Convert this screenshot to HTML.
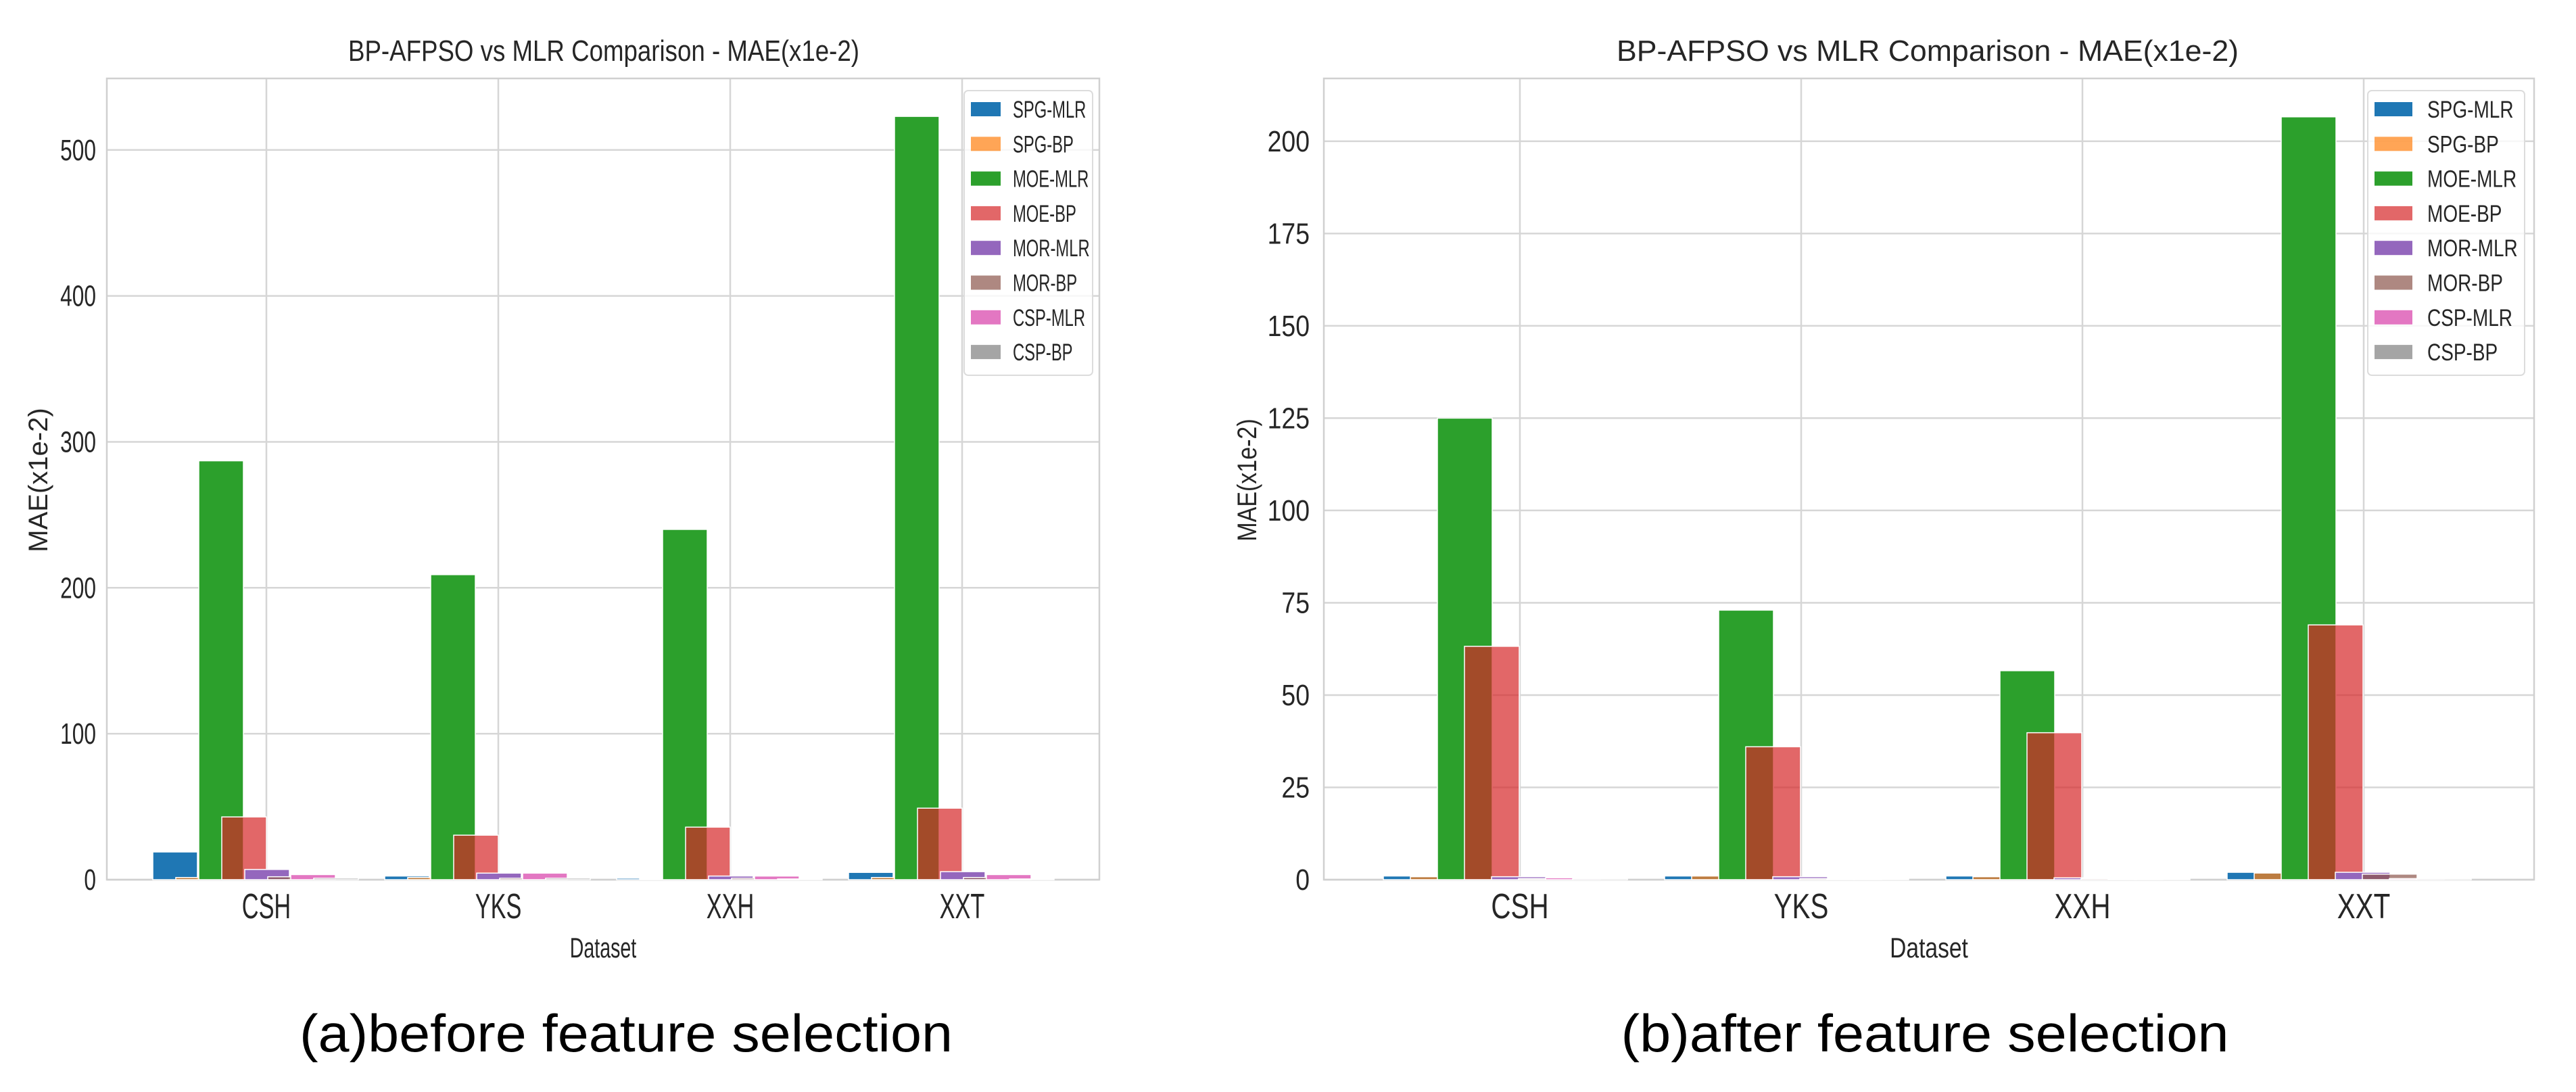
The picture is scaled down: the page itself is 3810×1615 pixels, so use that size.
<!DOCTYPE html>
<html><head><meta charset="utf-8"><style>
html,body{margin:0;padding:0;background:#fff;}
svg{display:block;}
text{font-family:"Liberation Sans",sans-serif;fill:#262626;}
</style></head><body>
<svg id="fig" width="3810" height="1615" viewBox="0 0 3810 1615" xmlns="http://www.w3.org/2000/svg">
<text x="926" y="1555" font-size="78" text-anchor="middle" textLength="966" lengthAdjust="spacingAndGlyphs" style="fill:#000">(a)before feature selection</text>
<text x="2847" y="1555" font-size="78" text-anchor="middle" textLength="899" lengthAdjust="spacingAndGlyphs" style="fill:#000">(b)after feature selection</text>
</svg>
<script>
const categories = ["CSH","YKS","XXH","XXT"];
const seriesNames = ["SPG-MLR","SPG-BP","MOE-MLR","MOE-BP","MOR-MLR","MOR-BP","CSP-MLR","CSP-BP"];
const seriesColors = ["#1f77b4","#ff7f0e","#2ca02c","#d62728","#9467bd","#8c564b","#e377c2","#7f7f7f"];
// before feature selection
const beforeSPGMLR = [19, 2.5, 1, 5];
const beforeSPGBP = [1.5, 1.5, 0.5, 1.5];
const beforeMOEMLR = [287, 209, 240, 523];
const beforeMOEBP = [43, 30.5, 36, 49];
const beforeMORMLR = [7, 4.5, 2.5, 5.5];
const beforeMORBP = [2, 1, 1, 1.5];
const beforeCSPMLR = [3.5, 4.5, 2.5, 3.5];
const beforeCSPBP = [1, 1, 0.5, 0.5];
// after feature selection
const afterSPGMLR = [1, 1, 1, 2];
const afterSPGBP = [0.8, 1, 0.8, 1.8];
const afterMOEMLR = [125, 73, 56.6, 206.6];
const afterMOEBP = [63.2, 36, 39.8, 69];
const afterMORMLR = [0.8, 0.8, 0.5, 2];
const afterMORBP = [0.3, 0.3, 0.3, 1.5];
const afterCSPMLR = [0.5, 0.2, 0.2, 0.3];
const afterCSPBP = [0.3, 0.2, 0.2, 0.3];
const beforeTicks = [0, 100, 200, 300, 400, 500];
const afterTicks = [0, 25, 50, 75, 100, 125, 150, 175, 200];

const NS = "http://www.w3.org/2000/svg";
const fig = document.getElementById('fig');
function mk(tag, attrs, parent){ const e=document.createElementNS(NS,tag); for(const k in attrs) e.setAttribute(k,attrs[k]); (parent||fig).appendChild(e); return e; }
function txt(parent, x, y, s, size, anchor, sx, rot){
  const t = mk('text',{ 'font-size':size, 'text-anchor':anchor,
    transform:'translate('+x+','+y+')'+(rot?' rotate('+rot+')':'')+' scale('+sx+',1)'}, parent);
  t.textContent = s; return t;
}

function drawChart(cfg){
  const g = mk('g',{});
  
  
  const L=cfg.left, R=cfg.right, T=116, B=1301, maxV=cfg.maxV;
  const yS = v => B - v/maxV*(B-T);
  const xS = i => cfg.firstTick + i*cfg.spacing;
  cfg.ticks.forEach(t=>{
    const ln = mk('line',{x1:L,x2:R,y1:yS(t),y2:yS(t),stroke:'#d6d6d6','stroke-width':2.5},g);
    
    
    const lb = txt(g, cfg.tickRight, yS(t)+15, String(t), 44, 'end', cfg.tsx);
    
    
  });
  categories.forEach((c,i)=>{
    const ln = mk('line',{x1:xS(i),x2:xS(i),y1:T,y2:B,stroke:'#d6d6d6','stroke-width':2.5},g);
    
    
    const lb = txt(g, xS(i), 1358, c, 52, 'middle', cfg.sx*0.97);
    
    
  });
  const frame = mk('rect',{x:L,y:T,width:R-L,height:B-T,fill:'none',stroke:'#d0d0d0','stroke-width':2.5},g);
  
  
  cfg.series.forEach((vals,s)=>{
    const isBP = s%2===1;
    vals.forEach((v,i)=>{
      const x = xS(i) + cfg.barOff + (s-3)*cfg.step;
      const r = mk('rect',{x:x,y:yS(v),width:cfg.barW,height:B-yS(v),fill:seriesColors[s],
        'fill-opacity':isBP?0.7:1,stroke:'#fff','stroke-width':1.5},g);
      
      
    });
  });
  const ti = mk('text',{x:cfg.titleX,y:90,'font-size':44,'text-anchor':'middle',textLength:cfg.titleW,lengthAdjust:'spacingAndGlyphs'},g);
  ti.textContent = cfg.title;
  
  
  const xl = txt(g, (L+R)/2, 1416, 'Dataset', 42, 'middle', cfg.sx);
  
  
  const yl = txt(g, cfg.ylabX, 710, 'MAE(x1e-2)', 40, 'middle', 1, -90);
  yl.setAttribute('transform','translate('+cfg.ylabX+',710) rotate(-90) scale('+cfg.ysx+',1)');
  
  
  const lg = mk('g',{},g);
  
  
  mk('rect',{x:cfg.legX,y:134,width:cfg.legW,height:421,rx:6,fill:'#fff','fill-opacity':0.8,stroke:'#dcdcdc','stroke-width':2},lg);
  seriesNames.forEach((n,s)=>{
    const cy = 161 + s*51.3;
    const p = mk('rect',{x:cfg.legX+10,y:cy-10,width:cfg.patchW,height:21,fill:seriesColors[s],'fill-opacity':s%2?0.7:1},lg);
    
    
    const t = txt(lg, cfg.legX+cfg.textOff, cy+13, n, 35, 'start', cfg.sx);
    
    
  });
}

drawChart({name:'chart-before', left:158, right:1626, maxV:549, ticks:beforeTicks,
  series:[beforeSPGMLR,beforeSPGBP,beforeMOEMLR,beforeMOEBP,beforeMORMLR,beforeMORBP,beforeCSPMLR,beforeCSPBP],
  firstTick:394, spacing:343, barOff:-66, step:34, barW:66, tickRight:142, tsx:0.72, sx:0.68,
  title:'BP-AFPSO vs MLR Comparison - MAE(x1e-2)', titleX:893, titleW:756, ylabX:70, ysx:1,
  legX:1426, legW:190, patchW:44, textOff:72});
drawChart({name:'chart-after', left:1958, right:3748, maxV:217, ticks:afterTicks,
  series:[afterSPGMLR,afterSPGBP,afterMOEMLR,afterMOEBP,afterMORMLR,afterMORBP,afterCSPMLR,afterCSPBP],
  firstTick:2248, spacing:416, barOff:-82, step:40, barW:81, tickRight:1937, tsx:0.85, sx:0.8,
  title:'BP-AFPSO vs MLR Comparison - MAE(x1e-2)', titleX:2851, titleW:920, ylabX:1858, ysx:0.85,
  legX:3502, legW:232, patchW:56, textOff:88});
</script>
</body></html>
